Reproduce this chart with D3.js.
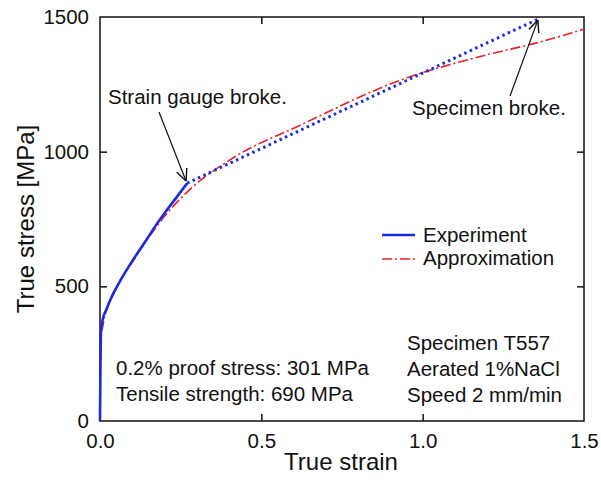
<!DOCTYPE html>
<html>
<head>
<meta charset="utf-8">
<script src="https://cdn.jsdelivr.net/npm/d3@7"></script>
<style>
  body { margin: 0; background: #fff; }
  text { font-family: "Liberation Sans", Arial, sans-serif; fill: #111; }
</style>
</head>
<body>
<svg id="chart" width="601" height="483"></svg>
<script>
// experiment, measured with the strain gauge (solid part)
var expStrain = [0, 0.001, 0.002, 0.003, 0.008, 0.02, 0.04, 0.06, 0.09, 0.12, 0.145, 0.175, 0.207, 0.24, 0.27],
  expStress = [0, 150, 260, 330, 375, 415, 470, 515, 575, 630, 675, 730, 783, 835, 883];
// after the gauge broke: straight dotted line up to fracture
var brokenStrain = [0.27, 1.357],
  brokenStress = [883, 1492];
// approximation curve
var apxStrain = [0, 0.003, 0.01, 0.02, 0.05, 0.1, 0.15, 0.2, 0.27, 0.41, 0.62, 0.93, 1.2, 1.36, 1.5],
  apxStress = [200, 300, 360, 410, 495, 590, 680, 760, 850, 975, 1098, 1265, 1360, 1406, 1455];
var xTicks = [0, 0.5, 1.0, 1.5],
  yTicks = [0, 500, 1000, 1500];

var W = 601, H = 483,
  M_LEFT = 100, M_RIGHT = 17, M_TOP = 17, M_BOTTOM = 62,
  FONT = '20.5px';

var svg = d3.select('#chart');

var x = d3.scaleLinear().domain([0, 1.5]).range([M_LEFT, W - M_RIGHT]);
var y = d3.scaleLinear().domain([0, 1500]).range([H - M_BOTTOM, M_TOP]);

var defs = svg.append('defs');
defs.append('marker')
  .attr('id', 'arrow')
  .attr('viewBox', '0 0 10 10')
  .attr('refX', 10).attr('refY', 5)
  .attr('markerWidth', 12).attr('markerHeight', 12)
  .attr('markerUnits', 'userSpaceOnUse')
  .attr('orient', 'auto')
  .append('path')
  .attr('d', 'M0,0.5 L10,5 L0,9.5')
  .attr('fill', 'none')
  .attr('stroke', '#111')
  .attr('stroke-width', 1.2);

// frame
svg.append('rect')
  .attr('x', x(0)).attr('y', y(1500))
  .attr('width', x(1.5) - x(0)).attr('height', y(0) - y(1500))
  .attr('fill', 'none').attr('stroke', '#111').attr('stroke-width', 1.5);

// axes, ticks inward
var xAxis = svg.append('g').attr('transform', 'translate(0,' + y(0) + ')')
  .call(d3.axisBottom(x).tickValues(xTicks).tickSize(-7).tickPadding(12).tickFormat(d3.format('.1f')));
var xTop = svg.append('g').attr('transform', 'translate(0,' + y(1500) + ')')
  .call(d3.axisTop(x).tickValues([0.5, 1.0]).tickSize(-7).tickFormat(''));
var yAxis = svg.append('g').attr('transform', 'translate(' + x(0) + ',0)')
  .call(d3.axisLeft(y).tickValues(yTicks).tickSize(-7).tickPadding(11).tickFormat(d3.format('d')));
var yRight = svg.append('g').attr('transform', 'translate(' + x(1.5) + ',0)')
  .call(d3.axisRight(y).tickValues([500, 1000]).tickSize(-7).tickFormat(''));

[xAxis, xTop, yAxis, yRight].forEach(function(g) {
  g.select('.domain').remove();
  g.selectAll('line').attr('stroke', '#111').attr('stroke-width', 1.5);
  g.selectAll('text').style('font-size', FONT).attr('fill', '#111');
});
yAxis.selectAll('.tick line').filter(function(d) { return d === 0 || d === 1500; }).remove();
xAxis.selectAll('.tick line').filter(function(d) { return d === 0 || d === 1.5; }).remove();

svg.append('text')
  .attr('x', 341).attr('y', 470)
  .attr('text-anchor', 'middle').style('font-size', '24px')
  .text('True strain');
svg.append('text')
  .attr('transform', 'translate(34,219) rotate(-90)')
  .attr('text-anchor', 'middle').style('font-size', '24px')
  .text('True stress [MPa]');

var line = d3.line().x(function(d) { return x(d[0]); }).y(function(d) { return y(d[1]); });
var lineCurve = d3.line().curve(d3.curveMonotoneX)
  .x(function(d) { return x(d[0]); }).y(function(d) { return y(d[1]); });

var apx = apxStrain.map(function(s, i) { return [s, apxStress[i]]; });
var exp = expStrain.map(function(s, i) { return [s, expStress[i]]; });
var broken = brokenStrain.map(function(s, i) { return [s, brokenStress[i]]; });

svg.append('path').datum(apx)
  .attr('d', lineCurve)
  .attr('fill', 'none').attr('stroke', '#e8202a').attr('stroke-width', 1.6)
  .attr('stroke-dasharray', '10,3,2,3');

svg.append('path').datum(broken)
  .attr('d', line)
  .attr('fill', 'none').attr('stroke', '#1a2be0').attr('stroke-width', 3)
  .attr('stroke-dasharray', '2.5,3.5');

svg.append('path').datum(exp)
  .attr('d', lineCurve)
  .attr('fill', 'none').attr('stroke', '#1a2be0').attr('stroke-width', 2.6);

// annotations
svg.append('text').attr('x', 108).attr('y', 104).style('font-size', FONT).text('Strain gauge broke.');
svg.append('line')
  .attr('x1', 159).attr('y1', 112)
  .attr('x2', x(0.27) - 1).attr('y2', y(883) - 2)
  .attr('stroke', '#111').attr('stroke-width', 1.2).attr('marker-end', 'url(#arrow)');

svg.append('text').attr('x', 412).attr('y', 115).style('font-size', FONT).text('Specimen broke.');
svg.append('line')
  .attr('x1', 510).attr('y1', 96)
  .attr('x2', x(1.357)).attr('y2', y(1492) + 1)
  .attr('stroke', '#111').attr('stroke-width', 1.2).attr('marker-end', 'url(#arrow)');

// legend
var legend = svg.append('g');
legend.append('line').attr('x1', 382).attr('x2', 415).attr('y1', 235).attr('y2', 235)
  .attr('stroke', '#1a2be0').attr('stroke-width', 2.6);
legend.append('text').attr('x', 423).attr('y', 242).style('font-size', FONT).text('Experiment');
legend.append('line').attr('x1', 382).attr('x2', 415).attr('y1', 259).attr('y2', 259)
  .attr('stroke', '#e8202a').attr('stroke-width', 1.6).attr('stroke-dasharray', '10,3,2,3');
legend.append('text').attr('x', 423).attr('y', 265).style('font-size', FONT).text('Approximation');

var infoLeft = ['0.2% proof stress: 301 MPa', 'Tensile strength: 690 MPa'];
svg.selectAll('.infoL').data(infoLeft).enter().append('text')
  .attr('x', 116).attr('y', function(d, i) { return 375 + i * 26; })
  .style('font-size', FONT).text(function(d) { return d; });

var infoRight = ['Specimen T557', 'Aerated 1%NaCl', 'Speed 2 mm/min'];
svg.selectAll('.infoR').data(infoRight).enter().append('text')
  .attr('x', 407).attr('y', function(d, i) { return 350 + i * 26; })
  .style('font-size', FONT).text(function(d) { return d; });
</script>
</body>
</html>
